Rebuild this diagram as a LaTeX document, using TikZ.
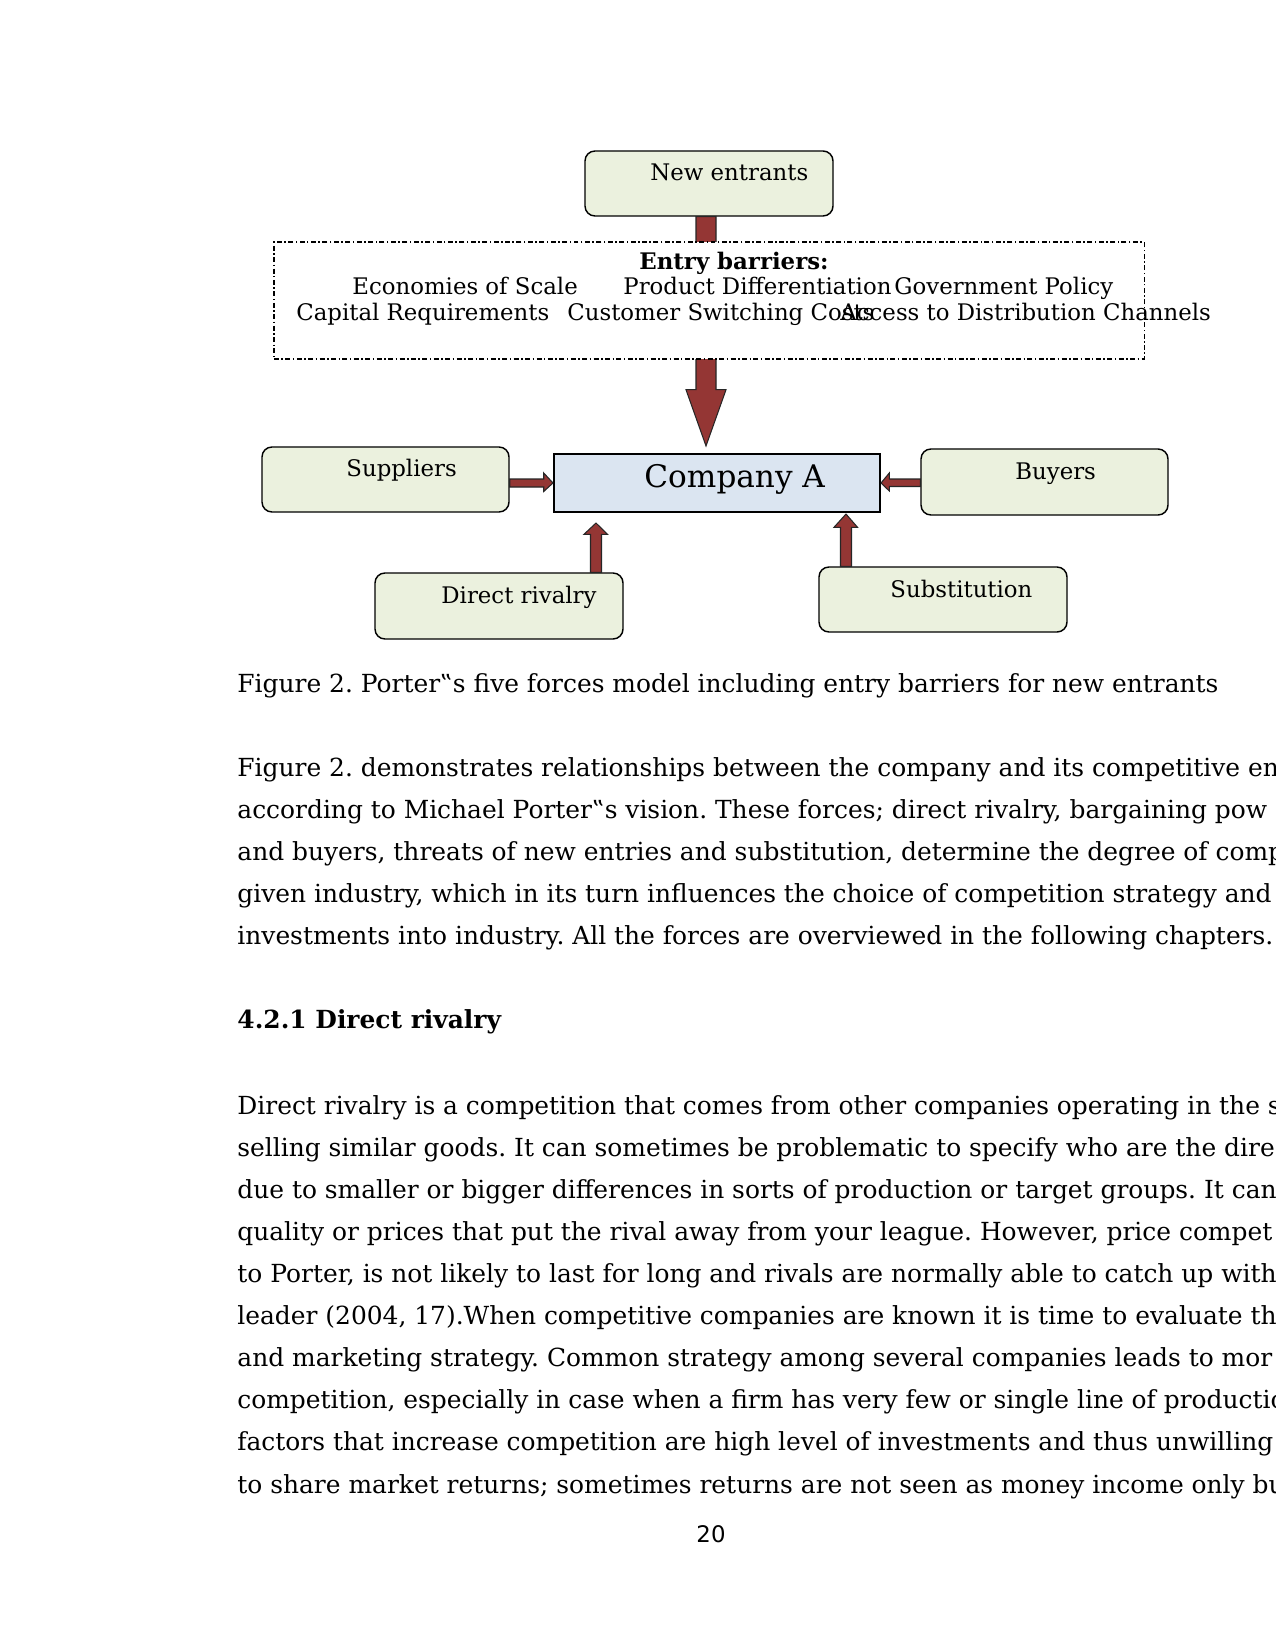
\documentclass[tikz,border=0pt]{standalone}
\usepackage{fontspec}
\setmainfont{DejaVu Serif}
\setsansfont{DejaVu Sans}
\usetikzlibrary{positioning, calc, fit}

\definecolor{forcegreen}{HTML}{EBF1DE}
\definecolor{firmblue}{HTML}{DBE5F1}
\definecolor{pushred}{HTML}{943634}

\begin{document}
\frenchspacing
\begin{tikzpicture}[x=0.4818pt, y=-0.4818pt,
		forcebox/.style={draw, fill=forcegreen, rounded corners=4.8pt, line width=0.7pt, inner sep=0pt},
		firmbox/.style={draw, fill=firmblue, line width=1pt, inner sep=0pt},
		barrierbox/.style={draw, fill=white, line width=0.5pt, inner sep=0pt, dash pattern=on 2.4pt off 1.2pt on 0.7pt off 1.2pt},
		push/.style={fill=pushred, draw=black!85, line width=0.5pt, line join=miter},
		lbl/.style={anchor=base west, inner sep=0pt, font=\fontsize{11}{13}\selectfont},
		txt/.style={anchor=base west, inner sep=0pt, font=\fontsize{12}{14}\selectfont}]
	
	\fill[white] (0,0) rectangle (1275,1651);
	\clip (0,0) rectangle (1275,1651);
	
	% Forces
	\node[forcebox, fit={(585,151) (833,216)}] (newent) {};
	\node[lbl] (newent-t) at (650,181) {New entrants};
	
	\node[firmbox, fit={(554,454) (880,512)}] (firm) {};
	\node[lbl, font=\fontsize{15}{18}\selectfont] (firm-t) at (644,488) {Company A};
	
	\node[forcebox, fit={(262,447) (509,512)}] (sup) {};
	\node[lbl] (sup-t) at (346,477) {Suppliers};
	
	\node[forcebox, fit={(921,449) (1168,515)}] (buy) {};
	\node[lbl] (buy-t) at (1015,480) {Buyers};
	
	\node[forcebox, fit={(375,573) (623,639)}] (rival) {};
	\node[lbl] (rival-t) at (441,603) {Direct rivalry};
	
	\node[forcebox, fit={(819,567) (1067,632)}] (subst) {};
	\node[lbl] (subst-t) at (890,597) {Substitution};
	
	% Arrows
	\draw[push] ($(newent.south)+(-13,0)$) -- ++(0,173) -- ++(-10,0) -- ($(firm.north)+(-11,-7)$)
		-- ($(newent.south)+(17,173)$) -- ++(-10,0) -- ++(0,-173) -- cycle;
	\draw[push] ($(sup.east)+(0,-0.5)$) -- ++(34,0) -- ++(0,-6) -- (firm.west)
		-- ($(sup.east)+(34,12)$) -- ++(0,-4.5) -- ++(-34,0) -- cycle;
	\draw[push] ($(buy.west)+(0,-3)$) -- ++(-31,0) -- ++(0,-6) -- (firm.east)
		-- ($(buy.west)+(-31,9)$) -- ++(0,-4.5) -- ++(31,0) -- cycle;
	\draw[push] ($(rival.north)+(91.5,0)$) -- ++(0,-38) -- ++(-6.5,0) -- ($(firm.south)+(-121,10)$)
		-- ($(rival.north)+(108.5,-38)$) -- ++(-6,0) -- ++(0,38) -- cycle;
	\draw[push] ($(subst.north)+(-102.5,0)$) -- ++(0,-39) -- ++(-6.5,0) -- ($(firm.south)+(129,1)$)
		-- ($(subst.north)+(-85.5,-39)$) -- ++(-6,0) -- ++(0,39) -- cycle;
	
	% Entry barriers
	\node[barrierbox, fit={(274,242) (1144,359)}] (barr) {};
	\node[lbl, anchor=base, font=\fontsize{11}{13}\selectfont\bfseries] (barr-t) at (734,270) {Entry barriers:};
	\node[lbl] (eco) at (352,295) {Economies of Scale};
	\node[lbl] (prod) at (623,295) {Product Differentiation};
	\node[lbl] (gov) at (894,295) {Government Policy};
	\node[lbl] (cap) at (296,321) {Capital Requirements};
	\node[lbl] (cust) at (567,321) {Customer Switching Costs};
	\node[lbl] (dist) at (840,321) {Access to Distribution Channels};
	
	% Caption and text
	\node[txt] (cap-t) at (237,692) {Figure 2. Porter‟s five forces model including entry barriers for new entrants};
	
	\node[txt] (p1a) at (237,776) {Figure 2. demonstrates relationships between the company and its competitive en};
	\node[txt] (p1b) at (237,818) {according to Michael Porter‟s vision. These forces; direct rivalry, bargaining pow};
	\node[txt] (p1c) at (237,860) {and buyers, threats of new entries and substitution, determine the degree of comp};
	\node[txt] (p1d) at (237,902) {given industry, which in its turn influences the choice of competition strategy and};
	\node[txt] (p1e) at (237,944) {investments into industry. All the forces are overviewed in the following chapters.};
	
	\node[txt, font=\fontsize{12}{14}\selectfont\bfseries] (head) at (237,1028) {4.2.1 Direct rivalry};
	
	\node[txt] (p2a) at (237,1114) {Direct rivalry is a competition that comes from other companies operating in the s};
	\node[txt] (p2b) at (237,1156) {selling similar goods. It can sometimes be problematic to specify who are the dire};
	\node[txt] (p2c) at (237,1198) {due to smaller or bigger differences in sorts of production or target groups. It can};
	\node[txt] (p2d) at (237,1240) {quality or prices that put the rival away from your league. However, price compet};
	\node[txt] (p2e) at (237,1282) {to Porter, is not likely to last for long and rivals are normally able to catch up with};
	\node[txt] (p2f) at (237,1324) {leader (2004, 17).When competitive companies are known it is time to evaluate th};
	\node[txt] (p2g) at (237,1366) {and marketing strategy. Common strategy among several companies leads to mor};
	\node[txt] (p2h) at (237,1408) {competition, especially in case when a firm has very few or single line of productio};
	\node[txt] (p2i) at (237,1450) {factors that increase competition are high level of investments and thus unwilling};
	\node[txt] (p2j) at (237,1493) {to share market returns; sometimes returns are not seen as money income only bu};
	
	\node[txt, anchor=base, font=\sffamily\fontsize{11}{13}\selectfont] (pageno) at (711,1542) {20};
	
\end{tikzpicture}
\end{document}
